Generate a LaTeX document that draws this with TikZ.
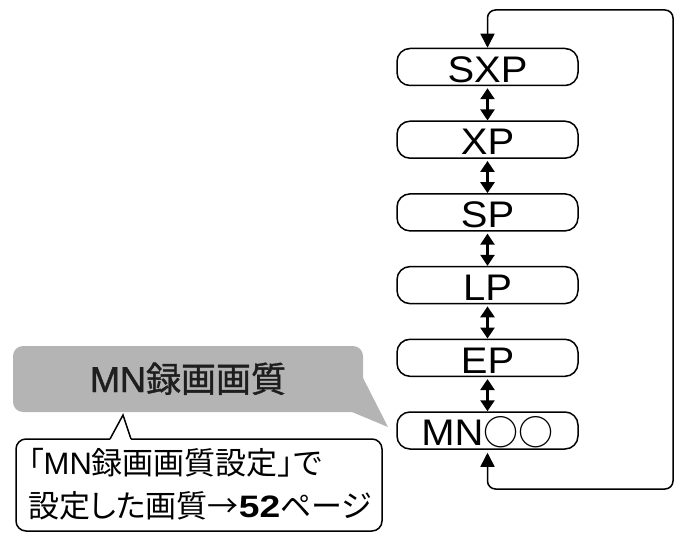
\documentclass[tikz,border=0pt]{standalone}
\usepackage{fontspec}
\setmainfont{Liberation Sans}
\newfontfamily\jp[RawFeature=+palt]{Noto Sans CJK JP}
\newfontfamily\jpplain{Noto Sans CJK JP}
\newfontfamily\jptitle[FakeBold=1.2]{Noto Sans CJK JP}
\newfontfamily\latintitle[FakeBold=1.2]{Liberation Sans}
\newfontfamily\boxfont[FakeStretch=1.08]{Liberation Sans}
\newfontfamily\heavy[FakeStretch=1.2]{Liberation Sans Bold}
\usetikzlibrary{arrows.meta}
\definecolor{calgray}{RGB}{180,180,180}
\definecolor{titletext}{RGB}{30,30,30}
\tikzset{
  modebox/.style={draw, line width=1.5pt, rounded corners=13pt,
    minimum width=181pt, minimum height=37pt, inner sep=0pt,
    text height=30.5pt, text depth=0pt,
    font=\boxfont\fontsize{37}{37}\selectfont},
  dbl/.style={{Triangle[width=14pt,length=11pt]}-{Triangle[width=14pt,length=11pt]},
    line width=2.5pt, shorten <=2pt},
  cycleline/.style={line width=1.5pt, rounded corners=8pt,
    {Triangle[width=14pt,length=14pt]}-{Triangle[width=14pt,length=14pt]},
    shorten <=3pt},
  calltext/.style={anchor=base west, inner sep=0pt,
    font=\fontsize{31}{36}\selectfont},
}
\begin{document}
\begin{tikzpicture}[x=1pt,y=-1pt]
\useasboundingbox (0,0) rectangle (694,535);

% mode boxes
\node[modebox] (sxp) at (487.5,67)    {SXP};
\node[modebox] (xp)  at (487.5,139.7) {XP};
\node[modebox] (sp)  at (487.5,212.4) {SP};
\node[modebox] (lp)  at (487.5,285.1) {LP};
\node[modebox] (ep)  at (487.5,357.8) {EP};
\node[modebox] (mn)  at (487.5,430.5) {MN{\jpplain\fontsize{35}{36}\selectfont ○○}};

% double arrows
\draw[dbl] (sxp.south) -- (xp.north);
\draw[dbl] (xp.south) -- (sp.north);
\draw[dbl] (sp.south) -- (lp.north);
\draw[dbl] (lp.south) -- (ep.north);
\draw[dbl] (ep.south) -- (mn.north);

% return loop
\coordinate (br) at (673,489);
\coordinate (tr) at (673,10);
\draw[cycleline] (mn.south) |- (br) -- (tr) -| (sxp.north);

% gray callout
\fill[calgray] (360,372) -- (388,427) -- (352,412) -- cycle;
\node[fill=calgray, rounded corners=10pt, minimum width=350pt, minimum height=66pt,
  inner sep=0pt, text height=26pt, text depth=0pt, text=titletext] (title) at (188,379)
  {{\latintitle\fontsize{36}{40}\selectfont MN}{\jptitle\fontsize{35}{40}\selectfont 録画画質}};

% white callout
\draw[line width=1.5pt, rounded corners=10pt]
  (131,439) -- (382,439) -- (382,531) -- (16,531) -- (16,439) -- (110,439);
\draw[line width=1.5pt, line join=miter] (110,439) -- (123,415) -- (131,439);
\node[calltext] (l1) at (28,474) {{\jp 「}MN{\jp 録画画質設定」で}};
\node[calltext] (l2) at (28,517) {{\jp 設定した画質→}{\heavy 52}{\jp ページ}};
\end{tikzpicture}
\end{document}
